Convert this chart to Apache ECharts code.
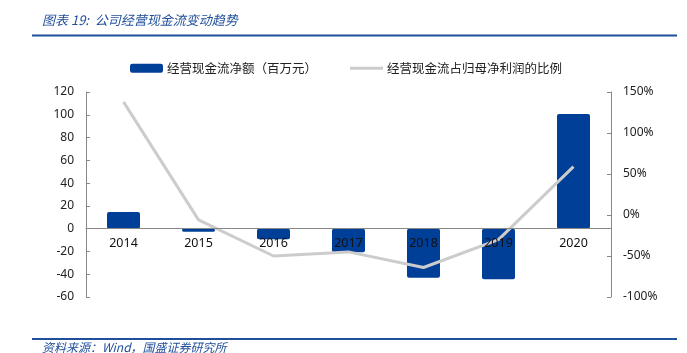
<!DOCTYPE html>
<html><head><meta charset="utf-8">
<script src="https://cdn.jsdelivr.net/npm/echarts@6/dist/echarts.min.js"></script>
<style>html,body{margin:0;padding:0;background:#fff}#c{width:687px;height:353px}</style>
</head><body><div id="c"></div>
<script>
const categories = ['2014','2015','2016','2017','2018','2019','2020'];
const cashFlow = [14.7, -2.6, -9.3, -20.7, -43, -44.4, 100.7];
const ratio = [1.38, -0.06, -0.50, -0.45, -0.64, -0.30, 0.59];
const leftTicks = {min: -60, max: 120, interval: 20};
const rightTicks = {min: -1, max: 1.5, interval: 0.5};
const barName = '经营现金流净额（百万元）';
const lineName = '经营现金流占归母净利润的比例';
const titleText = '图表 19:  公司经营现金流变动趋势';
const sourceText = '资料来源：Wind，国盛证券研究所';

const chart = echarts.init(document.getElementById('c'));
const font = '"Noto Sans", "Noto Sans CJK SC", sans-serif';
const option = {
  animation: false,
  textStyle: {fontFamily: font},
  graphic: [
    {type: 'text', left: 42, top: 14, style: {text: titleText, font: 'italic 13px "Noto Sans CJK SC", sans-serif', fill: '#1f4e9a'}},
    {type: 'rect', shape: {x: 32, y: 34.5, width: 645, height: 2}, style: {fill: '#1f4e9a'}},
    {type: 'rect', shape: {x: 32, y: 338, width: 645, height: 2}, style: {fill: '#1f4e9a'}},
    {type: 'text', left: 42, top: 341, style: {text: sourceText, font: 'italic 12px "Noto Sans CJK SC", sans-serif', fill: '#1f4e9a'}}
  ],
  legend: {
    left: 130, top: 62, padding: 0, itemWidth: 33, itemHeight: 9, itemGap: 33,
    textStyle: {fontSize: 12.5, color: '#222', fontFamily: '"Noto Sans CJK SC", sans-serif', padding: [0,0,0,-1]},
    data: [{name: barName, icon: 'roundRect'},
           {name: lineName, icon: 'path://M0,0 L33,0 L33,3 L0,3 Z', itemStyle: {color: '#cccccc'}}]
  },
  grid: {left: 86, right: 76, top: 92, bottom: 56, containLabel: false},
  xAxis: {
    type: 'category', data: categories, z: 10, offset: 0,
    axisLine: {onZero: false, lineStyle: {color: '#888', width: 1}},
    axisTick: {inside: true, length: 4, alignWithLabel: false, lineStyle: {color: '#888'}},
    axisLabel: {fontSize: 12.5, color: '#111', margin: 9}
  },
  yAxis: [
    {type: 'value', min: leftTicks.min, max: leftTicks.max, interval: leftTicks.interval,
     axisLine: {show: true, lineStyle: {color: '#888'}},
     axisTick: {show: true, inside: true, length: 4, lineStyle: {color: '#888'}},
     splitLine: {show: false},
     axisLabel: {fontSize: 12, color: '#222', margin: 12}},
    {type: 'value', min: rightTicks.min, max: rightTicks.max, interval: rightTicks.interval,
     axisLine: {show: true, lineStyle: {color: '#888'}},
     axisTick: {show: true, inside: true, length: 4, lineStyle: {color: '#888'}},
     splitLine: {show: false},
     axisLabel: {fontSize: 12, color: '#222', margin: 12, formatter: v => Math.round(v * 100) + '%'}}
  ],
  series: [
    {name: barName, type: 'bar', data: cashFlow, barWidth: 33, yAxisIndex: 0,
     itemStyle: {color: '#003f98', borderRadius: 2}},
    {name: lineName, type: 'line', data: ratio, yAxisIndex: 1, symbol: 'none',
     lineStyle: {color: '#cccccc', width: 3}, itemStyle: {color: '#cccccc'}, z: 3}
  ]
};
chart.setOption(option);
// place the category axis on the zero of the left value axis, using the library's scale
const yZero = chart.convertToPixel({yAxisIndex: 0}, 0);
const yBottom = chart.convertToPixel({yAxisIndex: 0}, leftTicks.min);
chart.setOption({xAxis: {offset: -(yBottom - yZero)}});
</script></body></html>
